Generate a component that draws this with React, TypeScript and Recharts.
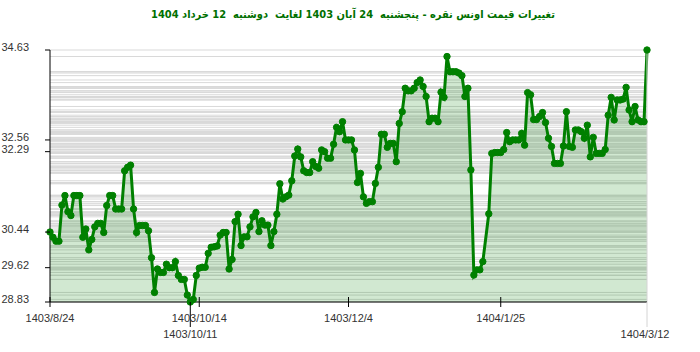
import React from 'react';
import { ComposedChart, Area, XAxis, YAxis, CartesianGrid, ReferenceLine } from 'recharts';

// day offset from 1403/8/24 and the ounce price on that day
const days = [
  0, 1, 2, 3, 4, 5, 6, 7, 8, 9, 10, 11, 12, 13, 14, 15, 16, 17, 18, 19,
  20, 21, 22, 23, 24, 25, 26, 27, 28, 29, 30, 31, 32, 33, 34, 35, 36, 37, 38, 39,
  40, 41, 42, 43, 44, 45, 46, 47, 48, 49, 50, 51, 52, 53, 54, 55, 56, 57, 58, 59,
  60, 61, 62, 63, 64, 65, 66, 67, 68, 69, 70, 71, 72, 73, 74, 75, 76, 77, 78, 79,
  80, 81, 82, 83, 84, 85, 86, 87, 88, 89, 90, 91, 92, 93, 94, 95, 96, 97, 98, 99,
  100, 101, 102, 103, 104, 105, 106, 107, 108, 109, 110, 111, 112, 113, 114, 115, 116, 117, 118, 119,
  120, 121, 122, 123, 124, 125, 126, 127, 128, 129, 130, 131, 132, 133, 134, 135, 136, 137, 138, 139,
  140, 141, 142, 143, 144, 145, 147, 148, 149, 150, 151, 152, 153, 154, 155, 156, 157, 158, 159,
  160, 161, 162, 163, 164, 165, 166, 167, 168, 169, 170, 171, 172, 173, 174, 175, 176, 177, 178, 179,
  180, 181, 182, 183, 184, 185, 186, 187, 188, 189, 190, 191, 192, 193, 194, 195, 196, 197, 198, 199,
  200,
];

const prices = [
  30.44, 30.32, 30.23, 30.23, 31.06, 31.28, 30.91, 30.82, 31.28, 31.28, 31.28, 30.32, 30.51, 30.03, 30.27, 30.56, 30.64, 30.64, 30.43, 31.05,
  31.28, 31.28, 30.97, 30.97, 30.97, 31.85, 31.93, 31.98, 30.97, 30.43, 30.59, 30.59, 30.59, 30.47, 29.85, 29.05, 29.59, 29.51, 29.51, 29.70,
  29.62, 29.62, 29.76, 29.44, 29.35, 29.35, 28.99, 28.83, 28.89, 29.44, 29.61, 29.63, 29.63, 29.95, 30.09, 30.10, 30.12, 30.37, 30.43, 30.43,
  29.59, 29.81, 30.68, 30.85, 30.13, 30.33, 30.33, 30.56, 30.79, 30.89, 30.45, 30.70, 30.60, 30.60, 30.13, 30.45, 30.85, 31.55, 31.20, 31.25,
  31.29, 31.62, 32.19, 32.35, 32.17, 31.85, 31.81, 31.81, 32.06, 31.95, 31.91, 32.33, 32.29, 32.14, 32.14, 32.46, 32.85, 32.75, 32.98, 32.56,
  32.56, 32.56, 32.33, 31.58, 31.79, 31.25, 31.10, 31.14, 31.14, 31.56, 31.93, 32.69, 32.69, 32.39, 32.48, 32.48, 32.06, 32.94, 33.21, 33.75,
  33.69, 33.69, 33.75, 33.88, 33.94, 33.79, 33.56, 32.98, 33.06, 33.06, 32.98, 33.66, 33.54, 34.48, 34.13, 34.13, 34.13, 34.10, 34.04, 33.56,
  33.75, 31.87, 29.45, 29.57, 29.57, 29.76, 30.86, 32.25, 32.27, 32.27, 32.27, 32.34, 32.73, 32.52, 32.56, 32.56, 32.56, 32.71, 32.44,
  33.65, 33.60, 33.03, 33.03, 33.10, 33.19, 32.96, 32.60, 32.41, 32.02, 32.02, 32.02, 32.42, 33.21, 32.41, 32.39, 32.79, 32.79, 32.75, 32.60,
  32.90, 32.17, 32.62, 32.25, 32.25, 32.25, 32.34, 33.13, 33.54, 33.02, 33.48, 33.48, 33.50, 33.77, 33.25, 32.98, 33.33, 33.02, 32.98, 32.98,
  34.63,
];

const xTickDays = [0, 47, 50, 100, 151, 200];
const xTickLabels = ['1403/8/24', '1403/10/11', '1403/10/14', '1403/12/4', '1404/1/25', '1404/3/12'];
const lowerRowDays = [47, 200];

const yTicks = [28.83, 29.62, 30.44, 32.29, 32.56, 34.63];

const TITLE = 'تغییرات قیمت اونس نقره - پنجشنبه  24 آبان 1403 لغایت  دوشنبه  12 خرداد 1404';

const GREEN = '#008000';
const FONT = '"Liberation Sans", Arial, sans-serif';

const data = days.map((d, i) => ({ day: d, price: prices[i] }));

function XTick(props: any) {
  const { x, y, payload } = props;
  const idx = xTickDays.indexOf(payload.value);
  const low = lowerRowDays.includes(payload.value);
  const last = payload.value === 200;
  return (
    <g>
      {low ? (
        <line x1={x} x2={x} y1={y} y2={y + 25} stroke={last ? '#d4d4d4' : '#000'} />
      ) : (
        <line x1={x} x2={x} y1={y - 5} y2={y + 5} stroke="#000" />
      )}
      <text
        x={last ? x - 2 : x}
        y={y + (low ? 32 : 16)}
        dy="0.355em"
        textAnchor="middle"
        fill="#333"
        fontSize={11}
        fontFamily={FONT}
      >
        {xTickLabels[idx]}
      </text>
    </g>
  );
}

function YTick(props: any) {
  const { x, y, payload } = props;
  return (
    <g>
      <line x1={x - 5} x2={x} y1={y} y2={y} stroke="#000" />
      <text x={x - 21} y={y - 3} dy="0.355em" textAnchor="end" fill="#333" fontSize={11} fontFamily={FONT}>
        {payload.value.toFixed(2)}
      </text>
    </g>
  );
}

export default function App() {
  return (
    <div style={{ position: 'absolute', left: 0, top: 0, width: 700, height: 352, background: '#fff' }}>
      <div
        dir="rtl"
        style={{
          position: 'absolute',
          left: 0,
          top: 8,
          width: 706,
          textAlign: 'center',
          whiteSpace: 'pre',
          fontFamily: '"DejaVu Sans Condensed", "DejaVu Sans", sans-serif',
          fontStretch: 'condensed',
          fontWeight: 'bold',
          fontSize: 11,
          color: '#007000',
        }}
      >
        {TITLE}
      </div>
      <ComposedChart width={700} height={352} data={data} margin={{ top: 50, right: 53, bottom: 0, left: 0 }}>
        <CartesianGrid horizontalValues={prices} vertical={false} stroke="#d9d9d9" />
        <ReferenceLine x={200} stroke="#d4d4d4" />
        <XAxis
          dataKey="day"
          type="number"
          domain={[0, 200]}
          ticks={xTickDays}
          interval={0}
          height={50}
          tickSize={0}
          tickMargin={0}
          tickLine={false}
          axisLine={{ stroke: '#000' }}
          tick={<XTick />}
        />
        <YAxis
          type="number"
          domain={[28.83, 34.63]}
          ticks={yTicks}
          interval={0}
          width={50}
          tickSize={0}
          tickMargin={0}
          tickLine={false}
          axisLine={{ stroke: '#000' }}
          tick={<YTick />}
        />
        <Area
          type="linear"
          dataKey="price"
          stroke={GREEN}
          strokeWidth={3}
          fill={GREEN}
          fillOpacity={0.18}
          dot={{ r: 3.2, fill: GREEN, fillOpacity: 1, stroke: GREEN, strokeWidth: 1 }}
          activeDot={false}
          isAnimationActive={false}
        />
      </ComposedChart>
    </div>
  );
}
